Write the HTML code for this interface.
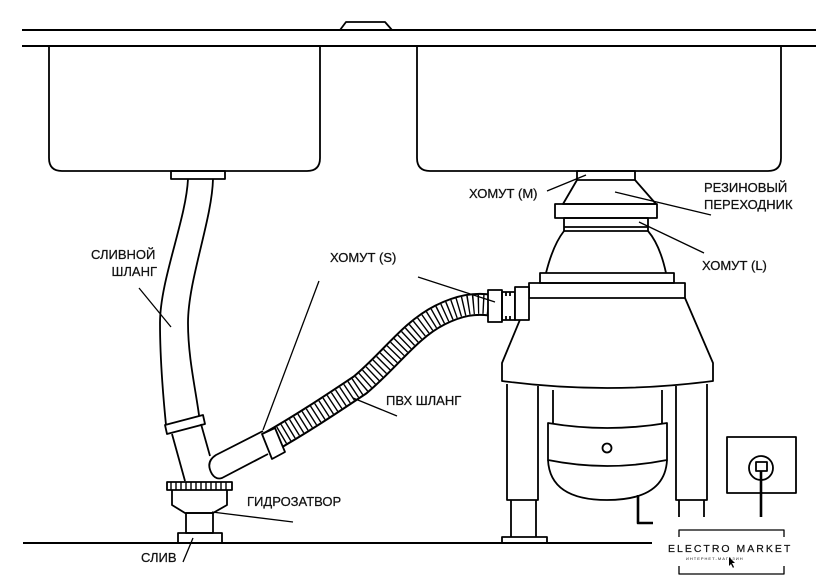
<!DOCTYPE html>
<html><head><meta charset="utf-8"><style>
html,body{margin:0;padding:0;background:#fff}
svg{display:block}
text{font-family:"Liberation Sans",sans-serif;font-size:13px;fill:#111;stroke:#111;stroke-width:0.25}
</style></head><body>
<svg width="840" height="587" viewBox="0 0 840 587" xmlns="http://www.w3.org/2000/svg">
<g fill="none" stroke="#000" stroke-width="1.8" stroke-linejoin="round">
<!-- counter -->
<line x1="22" y1="30" x2="816" y2="30" stroke-width="2"/>
<line x1="22" y1="46" x2="816" y2="46" stroke-width="2"/>
<path d="M340 30 L346 22 L385 22 L392 30" stroke-width="1.8"/>
<!-- sinks -->
<path d="M49 46 V158 Q49 171 62 171 H307 Q320 171 320 158 V46"/>
<path d="M417 46 V158 Q417 171 430 171 H768 Q781 171 781 158 V46"/>
<rect x="171" y="171" width="54" height="8"/>
<!-- drain hose -->
<path d="M188 179 C186 220 160 280 160 323 C160 360 163 395 166 425"/>
<path d="M213 179 C212 220 188 280 188 323 C188 360 197 395 200 423"/>
<path d="M165 425 L203 415 L205 424 L167 434 Z" fill="#fff"/>
<path d="M172 434 L185 481"/>
<path d="M201 424 L210 456"/>
<!-- elbow -->
<path d="M263 431 L216 455 Q205 462 212 474 Q216 480 222 478 L268 454"/>
<!-- corrugated hose -->
<path d="M268 443 C300 425 330 405 360 385 C390 360 410 330 440 315 C460 305 475 303 490 305" stroke-width="23" stroke-linecap="butt"/>
<path d="M268 443 C300 425 330 405 360 385 C390 360 410 330 440 315 C460 305 475 303 490 305" stroke="#fff" stroke-width="19" stroke-linecap="butt"/>
<path d="M268 443 C300 425 330 405 360 385 C390 360 410 330 440 315 C460 305 475 303 490 305" stroke-width="19" stroke-dasharray="1.4 3.6" stroke-linecap="butt"/>
<path d="M262 434 L275 428 L285 452 L272 459 Z" fill="#fff"/>
<!-- trap -->
<rect x="167" y="482" width="65" height="8" fill="#fff"/>
<path d="M171 482 V490 M176 482 V490 M181 482 V490 M186 482 V490 M191 482 V490 M196 482 V490 M201 482 V490 M206 482 V490 M211 482 V490 M216 482 V490 M221 482 V490 M226 482 V490" stroke-width="1.4"/>
<path d="M172 490 V505 L185 513 H213 L227 505 V490"/>
<rect x="186" y="513" width="27" height="20"/>
<rect x="178" y="533" width="44" height="10"/>
<!-- floor -->
<line x1="23" y1="543" x2="652" y2="543" stroke-width="2"/>
<!-- disposer -->
<rect x="577" y="171" width="58" height="9"/>
<path d="M577 180 L563 204 H656 L635 180"/>
<rect x="555" y="204" width="102" height="14"/>
<rect x="564" y="218" width="84" height="13"/>
<line x1="564" y1="227" x2="648" y2="227"/>
<path d="M564 231 Q553 245 546 273 M648 231 Q660 245 666 273"/>
<rect x="540" y="273" width="134" height="10"/>
<rect x="529" y="283" width="156" height="15"/>
<path d="M529 298 L502 363 V381 Q607 395 713 381 V363 L685 298"/>
<!-- inlet -->
<rect x="488" y="290" width="14" height="32" fill="#fff"/>
<path d="M502 292 H515 V320 H502 Z M506 292 V296 M510 292 V296 M506 320 V316 M510 320 V316"/>
<rect x="515" y="287" width="14" height="33" fill="#fff"/>
<!-- legs -->
<path d="M507 384 V500 H538 V386"/>
<path d="M511 500 V537 M536 500 V537"/>
<rect x="502" y="537" width="45" height="6"/>
<path d="M676 386 V500 H707 V384"/>
<path d="M679 500 V517 M704 500 V517"/>
<!-- chamber -->
<path d="M553 390 V423 M662 390 V423"/>
<path d="M548 423 Q607 433 667 423 V460 Q607 472 548 460 Z"/>
<path d="M548 460 Q550 500 607 500 Q665 500 667 460"/>
<circle cx="607" cy="448" r="4.5"/>
<path d="M638 495 V523 H653" stroke-width="2.6"/>
<!-- outlet -->
<rect x="727" y="437" width="69" height="56"/>
<circle cx="761" cy="468" r="12"/>
<rect x="756" y="462" width="11" height="9"/>
<line x1="761" y1="471" x2="761" y2="517" stroke-width="2.6"/>
<!-- watermark frame -->
<path d="M679 537 V530 H784 V537 M679 566 V574 H784 V566" stroke-width="1.3"/>
<!-- leaders -->
<g stroke-width="1.3">
<line x1="139" y1="288" x2="171" y2="327"/>
<line x1="319" y1="281" x2="263" y2="430"/>
<line x1="418" y1="277" x2="495" y2="302"/>
<line x1="353" y1="398" x2="397" y2="416"/>
<line x1="212" y1="512" x2="293" y2="522"/>
<line x1="183" y1="562" x2="193" y2="538"/>
<line x1="547" y1="191" x2="586" y2="175"/>
<line x1="615" y1="192" x2="711" y2="215"/>
<line x1="639" y1="222" x2="704" y2="253"/>
</g>
</g>
<text x="91" y="259">СЛИВНОЙ</text>
<text x="157" y="276" text-anchor="end">ШЛАНГ</text>
<text x="330" y="262">ХОМУТ (S)</text>
<text x="386" y="405">ПВХ ШЛАНГ</text>
<text x="247" y="506">ГИДРОЗАТВОР</text>
<text x="141" y="562">СЛИВ</text>
<text x="469" y="198">ХОМУТ (М)</text>
<text x="704" y="192">РЕЗИНОВЫЙ</text>
<text x="704" y="209">ПЕРЕХОДНИК</text>
<text x="702" y="270">ХОМУТ (L)</text>
<text x="668" y="552" style="font-size:10.5px;letter-spacing:2px;stroke-width:0.2">ELECTRO MARKET</text>
<text x="686" y="560" style="font-size:4px;letter-spacing:1px;stroke-width:0">ИНТЕРНЕТ-МАГАЗИН</text>
<path d="M729 557 L729 566 L731 564 L733 568 L734 567 L732 563 L735 563 Z" fill="#000"/>
</svg>
</body></html>
